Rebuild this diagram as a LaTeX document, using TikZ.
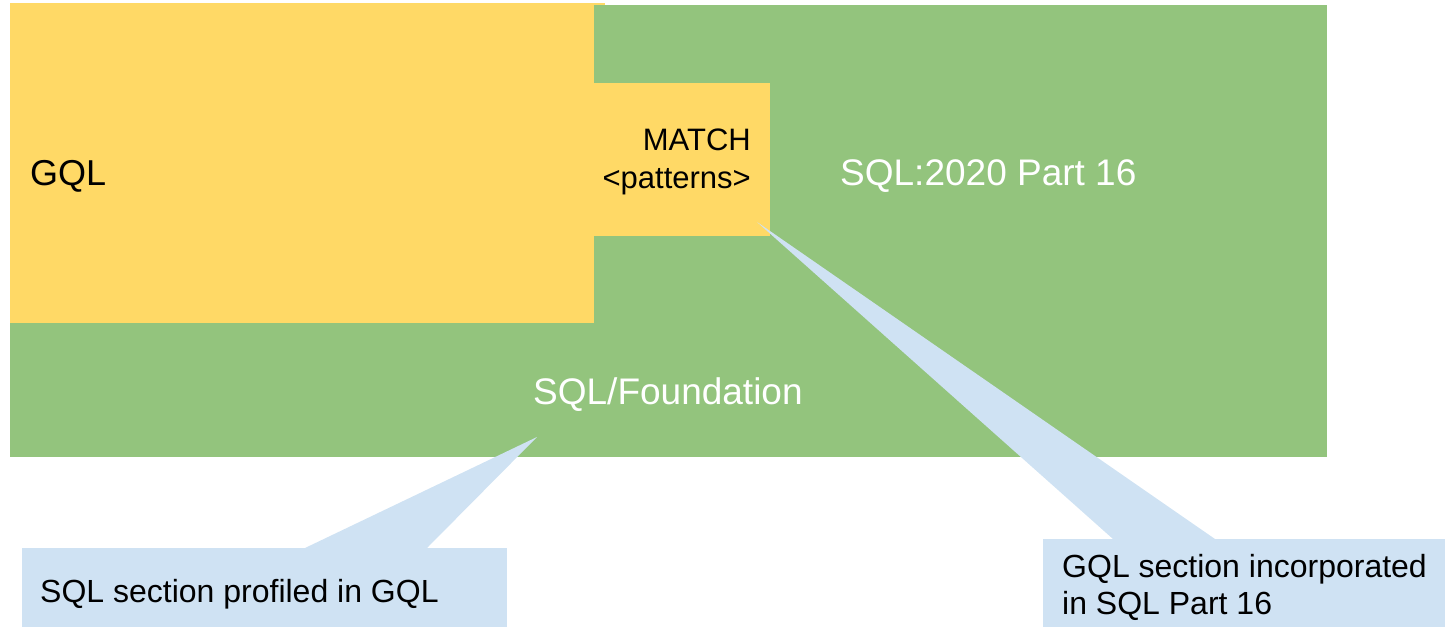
\documentclass[tikz,border=0pt]{standalone}
\usepackage{fontspec}
\setmainfont{Liberation Sans}
\definecolor{gqlyellow}{HTML}{FFD966}
\definecolor{sqlgreen}{HTML}{93C47D}
\definecolor{callblue}{HTML}{CFE2F3}
\begin{document}
\begin{tikzpicture}[x=1pt,y=-1pt,
  area/.style={inner sep=0pt, outer sep=0pt, anchor=north west},
  lbl/.style={inner sep=0pt, anchor=base west, font=\fontsize{37}{44}\selectfont},
  calltext/.style={inner sep=0pt, anchor=base west, align=left, font=\fontsize{32}{37}\selectfont}]
\useasboundingbox (0,0) rectangle (1445,627);
% green SQL area
\node[area, fill=sqlgreen, minimum width=1317pt, minimum height=452pt] (sql) at (10,5) {};
% GQL area
\node[area, fill=gqlyellow, minimum width=584pt, minimum height=320pt] (gql) at (10,3) {};
\node[area, fill=gqlyellow, minimum width=11pt, minimum height=2pt] (gqltop) at (594,3) {};
\node[area, fill=gqlyellow, minimum width=176pt, minimum height=153pt] (match) at (594,83) {};
% callouts
\coordinate (tipA) at (537,437);
\coordinate (tipB) at (757,222);
\node[area, fill=callblue, minimum width=485pt, minimum height=79pt] (callA) at (22,548) {};
\node[area, fill=callblue, minimum width=402pt, minimum height=88pt] (callB) at (1043,539) {};
\fill[callblue] (callA.north west) ++(283,0) -- (tipA) -- ([xshift=-80pt]callA.north east) -- cycle;
\fill[callblue] (callB.north west) ++(70,0) -- (tipB) -- ([xshift=172pt]callB.north west) -- cycle;
% labels
\node[lbl, font=\fontsize{36}{42}\selectfont] (tgql) at (30,185) {GQL};
\node[inner sep=0pt, anchor=base east, align=right, font=\fontsize{31}{38}\selectfont] (tmatch) at (751,188) {MATCH\\\textless{}patterns\textgreater{}};
\node[lbl, text=white] (tpart) at (840,185) {SQL:2020 Part 16};
\node[lbl, text=white] (tfound) at (533,404) {SQL/Foundation};
\node[calltext] (ta) at (40,602) {SQL section profiled in GQL};
\node[calltext] (tb) at (1062,614) {GQL section incorporated\\in SQL Part 16};
\end{tikzpicture}
\end{document}
